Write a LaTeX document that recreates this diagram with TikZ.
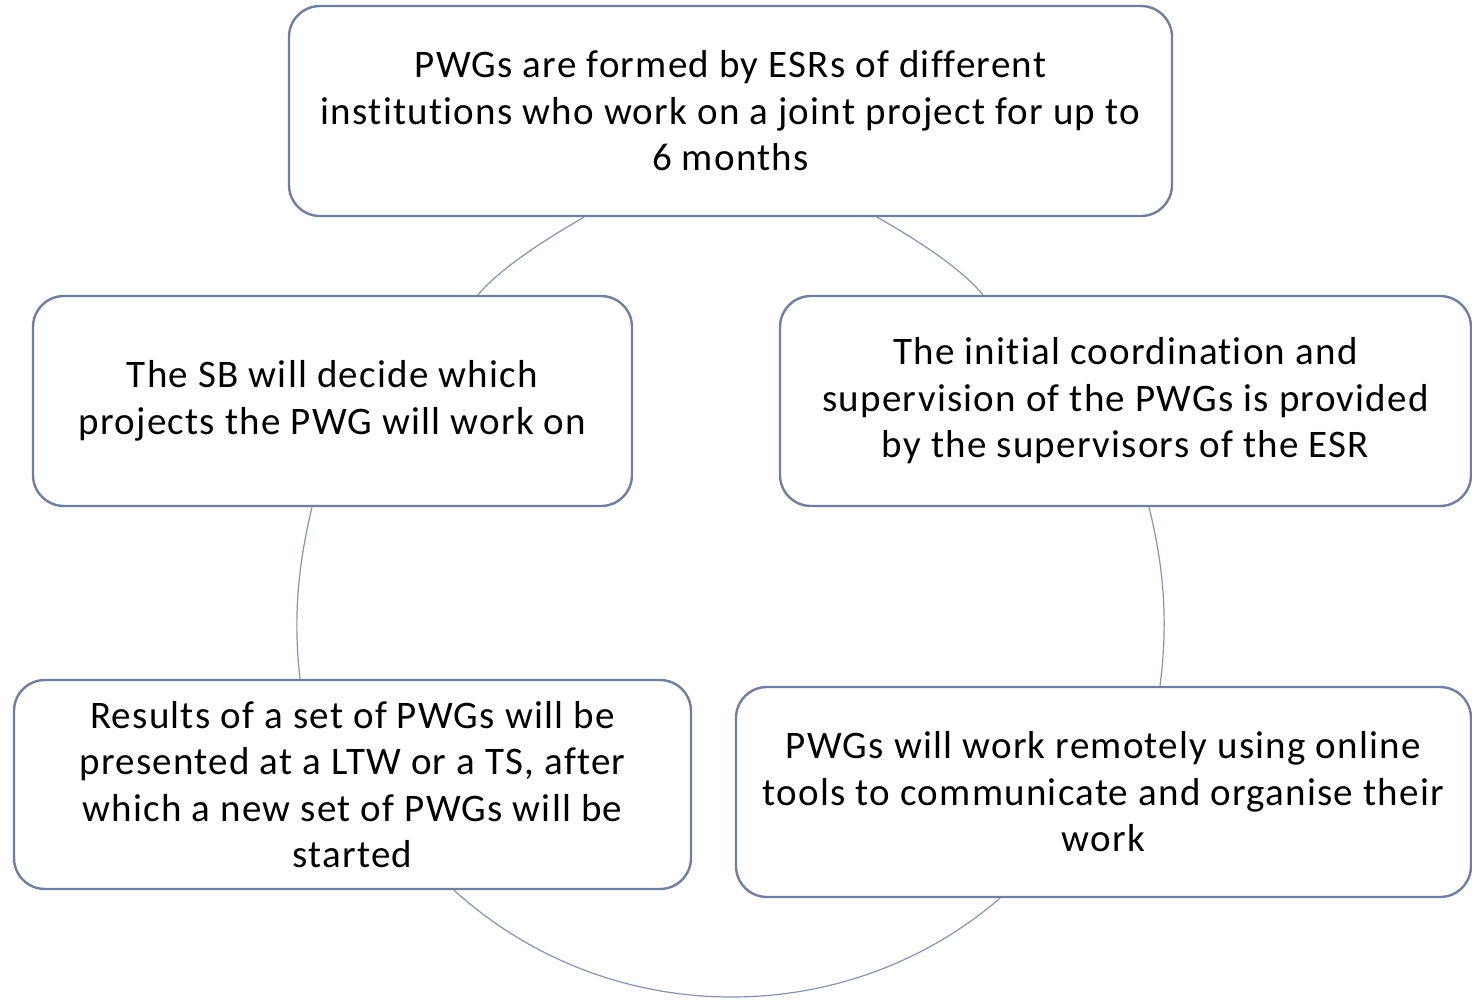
\documentclass[tikz,border=0pt]{standalone}
\usepackage{fontspec}
\setmainfont{Carlito}[Ligatures=NoCommon, LetterSpace=3.2]
\definecolor{boxline}{RGB}{112,127,158}
\definecolor{ringline}{RGB}{132,147,177}
\begin{document}
\begin{tikzpicture}[x=1pt,y=-1pt,
  box/.style={draw=boxline, line width=2.4pt, rounded corners=31pt, fill=white,
    align=center, inner sep=0pt, text=black,
    font=\fontsize{39}{46.5}\selectfont},
  ring/.style={draw=ringline, line width=1.2pt}]
\useasboundingbox (0,0) rectangle (1472,1001);

% the five stages of the cycle
\node[box, minimum width=883pt, minimum height=210pt] (top) at (730.5,111)
  {PWGs are formed by ESRs of different\\institutions who work on a joint project for up to\\6 months};
\node[box, minimum width=599pt, minimum height=210pt] (ul) at (332.5,401)
  {The SB will decide which\\projects the PWG will work on};
\node[box, minimum width=691pt, minimum height=210pt] (ur) at (1125.5,401)
  {The initial coordination and\\supervision of the PWGs is provided\\by the supervisors of the ESR};
\node[box, minimum width=735pt, minimum height=210pt] (lr) at (1103.5,792)
  {PWGs will work remotely using online\\tools to communicate and organise their\\work};
\node[box, minimum width=677pt, minimum height=209pt] (ll) at (352.5,784.5)
  {Results of a set of PWGs will be\\presented at a LTW or a TS, after\\which a new set of PWGs will be\\started};

% end points of the ring segments on the box borders
\coordinate (t1) at (top.south -| 584,0);
\coordinate (t2) at (top.south -| 877,0);
\coordinate (ul1) at (ul.north -| 478,0);
\coordinate (ul2) at (ul.south -| 312,0);
\coordinate (ur1) at (ur.north -| 983,0);
\coordinate (ur2) at (ur.south -| 1149,0);
\coordinate (ll1) at (ll.north -| 300,0);
\coordinate (ll2) at (ll.south -| 454,0);
\coordinate (lr1) at (lr.north -| 1160,0);
\coordinate (lr2) at (lr.south -| 1000,0);
\coordinate (bot) at (731.7,997);

% ring segments joining neighbouring boxes
\draw[ring] (t1) .. controls (530.3,248) and (495,274.3) .. (ul1);
\draw[ring] (t2) .. controls (931.7,248) and (966,274.3) .. (ur1);
\draw[ring] (ul2) .. controls (297.3,568.4) and (293.3,620.1) .. (ll1);
\draw[ring] (ur2) .. controls (1164.5,569.7) and (1168,623.4) .. (lr1);
\draw[ring] (ll2) .. controls (530.8,959.9) and (629.8,997) .. (bot)
  .. controls (829.6,997) and (924.4,963.1) .. (lr2);
\end{tikzpicture}
\end{document}
